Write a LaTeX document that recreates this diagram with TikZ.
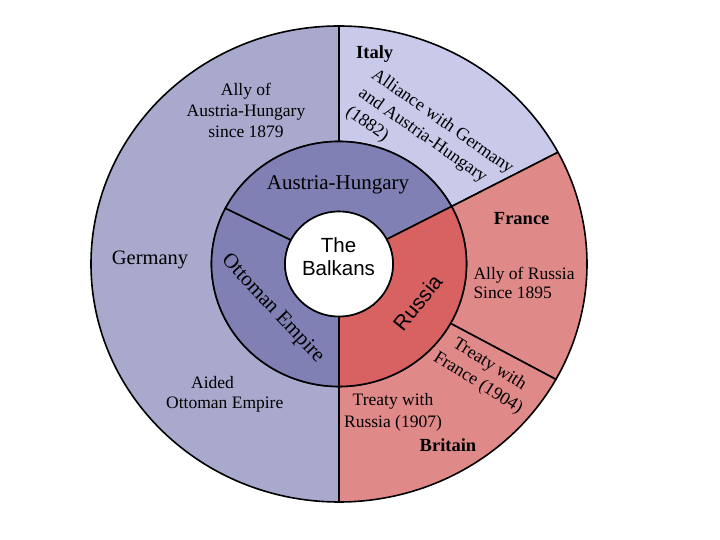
\documentclass[tikz,border=0pt]{standalone}
\usepackage{fontspec}
\setmainfont{Liberation Serif}
\setsansfont{Liberation Sans}
\usetikzlibrary{calc}
\definecolor{germc}{RGB}{168,169,204}
\definecolor{italyc}{RGB}{201,202,234}
\definecolor{pinkc}{RGB}{224,137,137}
\definecolor{russc}{RGB}{216,97,97}
\definecolor{austc}{RGB}{128,128,180}
\newcommand\ringsector[7]{%
  \path[sectorstyle, fill=#1] ($(C)+(#2:#6pt and #7pt)$)
    arc[start angle=#2, end angle=#3, x radius=#6pt, y radius=#7pt]
    -- ($(C)+(#3:#4pt and #5pt)$)
    arc[start angle=#3, end angle=#2, x radius=#4pt, y radius=#5pt] -- cycle;}
\tikzset{
  sectorstyle/.style={draw=black, line width=1.6pt, line join=round},
  lbl/.style={inner sep=0pt, text=black},
  small/.style={lbl, font=\fontsize{17.5}{21}\selectfont},
  big/.style={lbl, font=\fontsize{20.5}{24}\selectfont},
  country/.style={lbl, font=\bfseries\fontsize{18.5}{22}\selectfont},
  sansl/.style={lbl, font=\sffamily\fontsize{20.5}{23.7}\selectfont}
}
\begin{document}
\begin{tikzpicture}[x=1pt,y=1pt]
\useasboundingbox (0,0) rectangle (720,540);
\fill[white] (0,0) rectangle (720,540);
\coordinate (C) at (339,276);
% outer ring
\ringsector{germc}{90}{270}{127.5}{122.5}{248}{238}
\ringsector{italyc}{28}{90}{127.5}{122.5}{248}{238}
\ringsector{pinkc}{-29}{28}{127.5}{122.5}{248}{238}
\ringsector{pinkc}{-90}{-29}{127.5}{122.5}{248}{238}
% middle ring
\ringsector{austc}{28}{153}{54}{52.5}{127.5}{122.5}
\ringsector{austc}{153}{270}{54}{52.5}{127.5}{122.5}
\ringsector{russc}{-90}{28}{54}{52.5}{127.5}{122.5}
% centre
\path[sectorstyle, fill=white] (C) ellipse[x radius=54pt, y radius=52.5pt];
% labels
\node[small, align=center] (allyah) at (246,430) {Ally of\\Austria-Hungary\\since 1879};
\node[big, anchor=base] (germany) at (150,275) {Germany};
\node[country, anchor=base] (italy) at (374.7,481.7) {Italy};
\node[lbl, font=\fontsize{18}{22.5}\selectfont, align=left, rotate=-35] (alliance) at (429.4,399.5) {Alliance with Germany\\and Austria-Hungary\\(1882)};
\node[lbl, font=\fontsize{21}{25}\selectfont, anchor=base] (austria) at (338,350) {Austria-Hungary};
\node[lbl, font=\fontsize{21}{25}\selectfont, rotate=-47] (ottoman) at (272.5,231) {Ottoman Empire};
\node[lbl, font=\sffamily\fontsize{21}{25}\selectfont, rotate=51] (russia) at (417.5,237.5) {Russia};
\node[sansl, align=center] (balkans) at (338.5,283.2) {The\\Balkans};
\node[country, anchor=base] (france) at (521.7,315) {France};
\node[lbl, align=left, anchor=north west, font=\fontsize{17.5}{19.5}\selectfont] (allyru) at (473.3,273.3) {Ally of Russia\\Since 1895};
\node[lbl, font=\fontsize{18}{22}\selectfont, align=center, rotate=-32] (treatyfr) at (483.7,166) {Treaty with\\France (1904)};
\node[lbl, align=center, font=\fontsize{17.5}{21.7}\selectfont] (treatyru) at (393,128) {Treaty with\\Russia (1907)};
\node[country, anchor=base] (britain) at (448,88.3) {Britain};
\node[lbl, align=left, anchor=north west, font=\fontsize{17.5}{20}\selectfont] (aided) at (166,163.6) {\hspace*{25pt}Aided\\Ottoman Empire};
\end{tikzpicture}
\end{document}
